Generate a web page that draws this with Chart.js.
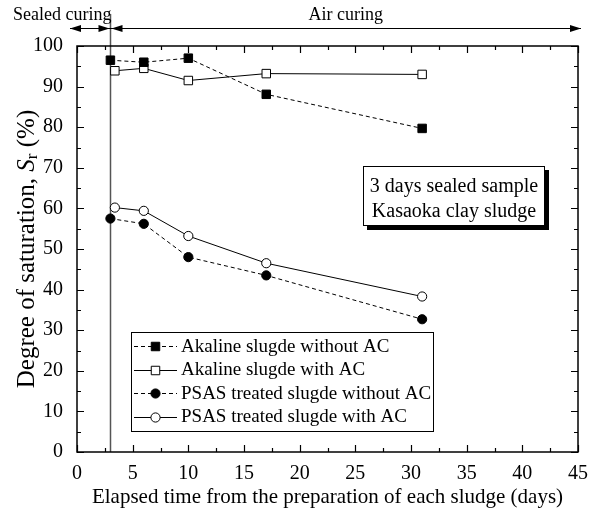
<!DOCTYPE html>
<html>
<head>
<meta charset="utf-8">
<script src="https://cdn.jsdelivr.net/npm/chart.js@4.4.1/dist/chart.umd.min.js"></script>
<style>
  html, body { margin: 0; padding: 0; background: #fff; }
  canvas { display: block; }
</style>
</head>
<body>
<canvas id="chart" width="594" height="512"></canvas>
<script>
const SERIF = "'Liberation Serif', 'Times New Roman', serif";

// Elapsed days for each series
const daysWithoutAC = [3, 6, 10, 17, 31];
const daysWithAC = [3.4, 6, 10, 17, 31];

// Degree of saturation Sr (%)
const alkalineWithoutAC = [96.5, 96.0, 97.0, 88.1, 79.7];
const alkalineWithAC = [93.9, 94.5, 91.5, 93.2, 93.0];
const psasWithoutAC = [57.5, 56.2, 48.0, 43.5, 32.7];
const psasWithAC = [60.2, 59.4, 53.2, 46.5, 38.3];

const seriesNames = [
  'Akaline slugde without AC',
  'Akaline slugde with AC',
  'PSAS treated slugde without AC',
  'PSAS treated slugde with AC'
];

const xTickValues = [0, 5, 10, 15, 20, 25, 30, 35, 40, 45];
const yTickValues = [0, 10, 20, 30, 40, 50, 60, 70, 80, 90, 100];
const xMinorTicks = [2.5, 7.5, 12.5, 17.5, 22.5, 27.5, 32.5, 37.5, 42.5];
const yMinorTicks = [5, 15, 25, 35, 45, 55, 65, 75, 85, 95];

const sealedEndDay = 3;
const curingLabels = ['Sealed curing', 'Air curing'];
const noteLines = ['3 days sealed sample', 'Kasaoka clay sludge'];
const xTitle = 'Elapsed time from the preparation of each sludge (days)';

const pts = (xs, ys) => xs.map((d, i) => ({ x: d, y: ys[i] }));

const styles = [
  { pointStyle: 'rect', radius: 6, fill: '#000', dash: [4, 3] },
  { pointStyle: 'rect', radius: 6, fill: '#fff', dash: [] },
  { pointStyle: 'circle', radius: 4.6, fill: '#000', dash: [4, 3] },
  { pointStyle: 'circle', radius: 4.6, fill: '#fff', dash: [] }
];
const seriesData = [
  pts(daysWithoutAC, alkalineWithoutAC),
  pts(daysWithAC, alkalineWithAC),
  pts(daysWithoutAC, psasWithoutAC),
  pts(daysWithAC, psasWithAC)
];

const datasets = seriesData.map((data, i) => ({
  label: seriesNames[i],
  data,
  showLine: true,
  borderColor: '#000',
  borderWidth: 1,
  borderDash: styles[i].dash,
  pointStyle: styles[i].pointStyle,
  pointRadius: styles[i].radius,
  pointHoverRadius: styles[i].radius,
  pointBackgroundColor: styles[i].fill,
  pointBorderColor: '#000',
  pointBorderWidth: 1,
  tension: 0
}));

function drawMarker(ctx, style, cx, cy) {
  ctx.save();
  ctx.setLineDash([]);
  ctx.fillStyle = style.fill;
  ctx.strokeStyle = '#000';
  ctx.lineWidth = 1;
  ctx.beginPath();
  if (style.pointStyle === 'rect') {
    const s = Math.SQRT1_2 * style.radius;
    ctx.rect(cx - s, cy - s, 2 * s, 2 * s);
  } else {
    ctx.arc(cx, cy, style.radius, 0, Math.PI * 2);
  }
  ctx.fill();
  ctx.stroke();
  ctx.restore();
}

function arrowHead(ctx, x, y, dir) {
  ctx.beginPath();
  ctx.moveTo(x, y);
  ctx.lineTo(x - dir * 11, y - 3.5);
  ctx.lineTo(x - dir * 11, y + 3.5);
  ctx.closePath();
  ctx.fill();
}

const decor = {
  id: 'decor',
  beforeDatasetsDraw(chart) {
    const { ctx, chartArea: a, scales: { x, y } } = chart;
    ctx.save();
    // boundary between sealed and air curing
    const xs = Math.round(x.getPixelForValue(sealedEndDay)) + 0.5;
    ctx.strokeStyle = '#555';
    ctx.lineWidth = 1.5;
    ctx.beginPath();
    ctx.moveTo(xs, 14);
    ctx.lineTo(xs, a.bottom);
    ctx.stroke();

    // inward tick marks on all four sides
    ctx.strokeStyle = '#000';
    ctx.lineWidth = 1.2;
    const tickX = (v, len) => {
      const px = Math.round(x.getPixelForValue(v)) + 0.5;
      ctx.beginPath();
      ctx.moveTo(px, a.bottom); ctx.lineTo(px, a.bottom - len);
      ctx.moveTo(px, a.top); ctx.lineTo(px, a.top + len);
      ctx.stroke();
    };
    const tickY = (v, len) => {
      const py = Math.round(y.getPixelForValue(v)) + 0.5;
      ctx.beginPath();
      ctx.moveTo(a.left, py); ctx.lineTo(a.left + len, py);
      ctx.moveTo(a.right, py); ctx.lineTo(a.right - len, py);
      ctx.stroke();
    };
    xTickValues.forEach(v => tickX(v, 7));
    xMinorTicks.forEach(v => tickX(v, 4));
    yTickValues.forEach(v => tickY(v, 7));
    yMinorTicks.forEach(v => tickY(v, 4));

    // plot frame
    ctx.lineWidth = 1.5;
    ctx.strokeRect(a.left, a.top, a.right - a.left, a.bottom - a.top);
    ctx.restore();
  },
  afterDraw(chart) {
    const { ctx, chartArea: a, scales: { x } } = chart;
    ctx.save();
    ctx.fillStyle = '#000';
    ctx.strokeStyle = '#000';

    // curing period arrows
    const xs = Math.round(x.getPixelForValue(sealedEndDay)) + 0.5;
    const ay = 28.5;
    const left = x.getPixelForValue(0) - 7;
    const right = x.getPixelForValue(45) + 3;
    ctx.lineWidth = 1.2;
    ctx.beginPath();
    ctx.moveTo(left, ay); ctx.lineTo(right, ay);
    ctx.stroke();
    arrowHead(ctx, left, ay, -1);
    arrowHead(ctx, xs - 1, ay, 1);
    arrowHead(ctx, xs + 1, ay, -1);
    arrowHead(ctx, right, ay, 1);

    ctx.font = '18px ' + SERIF;
    ctx.textBaseline = 'middle';
    ctx.textAlign = 'left';
    ctx.fillText(curingLabels[0], 13, 15);
    ctx.textAlign = 'center';
    ctx.fillText(curingLabels[1], (xs + right) / 2, 15);

    // y-axis title with italic S and subscript r
    ctx.save();
    ctx.translate(27, (a.top + a.bottom) / 2);
    ctx.rotate(-Math.PI / 2);
    const big = '25px ' + SERIF;
    const ital = 'italic 25px ' + SERIF;
    const small = '17px ' + SERIF;
    const parts = [
      { t: 'Degree of saturation, ', f: big, dy: 0 },
      { t: 'S', f: ital, dy: 0 },
      { t: 'r', f: small, dy: 6 },
      { t: ' (%)', f: big, dy: 0 }
    ];
    let total = 0;
    parts.forEach(p => { ctx.font = p.f; p.w = ctx.measureText(p.t).width; total += p.w; });
    let cx = -total / 2;
    ctx.textAlign = 'left';
    ctx.textBaseline = 'middle';
    parts.forEach(p => { ctx.font = p.f; ctx.fillText(p.t, cx, p.dy); cx += p.w; });
    ctx.restore();

    // legend
    const lg = { l: 131, t: 332, r: 433, b: 431 };
    ctx.fillStyle = '#fff';
    ctx.fillRect(lg.l, lg.t, lg.r - lg.l, lg.b - lg.t);
    ctx.strokeStyle = '#000';
    ctx.lineWidth = 1;
    ctx.strokeRect(lg.l + 0.5, lg.t + 0.5, lg.r - lg.l, lg.b - lg.t);
    ctx.font = '19px ' + SERIF;
    ctx.textAlign = 'left';
    ctx.textBaseline = 'middle';
    const rowY = [346, 369.5, 393, 416.5];
    styles.forEach((s, i) => {
      const yy = Math.round(rowY[i]) + 0.5;
      ctx.setLineDash(s.dash);
      ctx.beginPath();
      ctx.moveTo(134, yy); ctx.lineTo(177, yy);
      ctx.stroke();
      ctx.setLineDash([]);
      drawMarker(ctx, s, 155.5, yy);
      ctx.fillStyle = '#000';
      ctx.fillText(seriesNames[i], 181, rowY[i] + 1);
    });

    // sample description box with drop shadow
    const nb = { l: 363, t: 166, r: 545, b: 226 };
    ctx.fillStyle = '#000';
    ctx.fillRect(nb.l + 4, nb.t + 4, nb.r - nb.l, nb.b - nb.t);
    ctx.fillStyle = '#fff';
    ctx.fillRect(nb.l, nb.t, nb.r - nb.l, nb.b - nb.t);
    ctx.strokeRect(nb.l + 0.5, nb.t + 0.5, nb.r - nb.l - 1, nb.b - nb.t - 1);
    ctx.fillStyle = '#000';
    ctx.font = '20px ' + SERIF;
    ctx.textAlign = 'center';
    ctx.fillText(noteLines[0], (nb.l + nb.r) / 2, 187);
    ctx.fillText(noteLines[1], (nb.l + nb.r) / 2, 212);
    ctx.restore();
  }
};

new Chart(document.getElementById('chart'), {
  type: 'scatter',
  data: { datasets },
  options: {
    responsive: false,
    devicePixelRatio: 1,
    animation: false,
    events: [],
    layout: { padding: { left: 0, top: 46, right: 16, bottom: 0 } },
    plugins: { legend: { display: false }, tooltip: { enabled: false } },
    scales: {
      x: {
        type: 'linear',
        min: 0, max: 45,
        afterBuildTicks: s => { s.ticks = xTickValues.map(v => ({ value: v })); },
        afterFit: s => { s.height = 60; },
        grid: { display: false },
        border: { display: false },
        ticks: { color: '#000', font: { family: SERIF, size: 20 }, padding: 2, maxRotation: 0, autoSkip: false },
        title: {
          display: true,
          text: xTitle,
          color: '#000',
          font: { family: SERIF, size: 21 },
          padding: { top: 0, bottom: 2 }
        }
      },
      y: {
        type: 'linear',
        min: 0, max: 100,
        afterBuildTicks: s => { s.ticks = yTickValues.map(v => ({ value: v })); },
        afterFit: s => { s.width = 77; },
        grid: { display: false },
        border: { display: false },
        ticks: { color: '#000', font: { family: SERIF, size: 20 }, padding: 6, autoSkip: false }
      }
    }
  },
  plugins: [decor]
});
</script>
</body>
</html>
